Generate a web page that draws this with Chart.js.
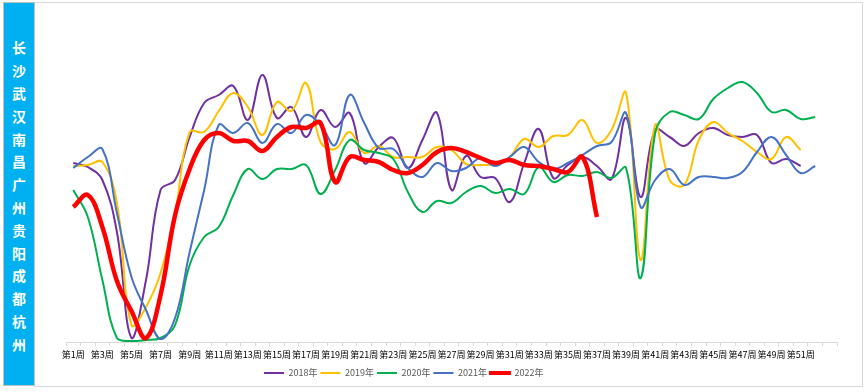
<!DOCTYPE html>
<html><head><meta charset="utf-8">
<script src="https://cdn.jsdelivr.net/npm/chart.js@4/dist/chart.umd.min.js"></script>
<style>
html,body{margin:0;padding:0;background:#fff;width:866px;height:392px;overflow:hidden;}
#frame{position:absolute;left:34px;top:2px;width:829px;height:385px;border:1px solid #D9D9D9;box-sizing:border-box;}
#side{position:absolute;left:3px;top:2px;width:32px;height:384px;background:#00B0F0;border:1px solid #BFBFBF;box-sizing:border-box;}
#side span{position:absolute;left:50%;top:38px;transform:translateX(-50%);writing-mode:vertical-rl;text-orientation:upright;color:#fff;font:700 14px "Noto Sans CJK SC";letter-spacing:8.8px;line-height:14px;}
#wrap{position:absolute;left:0;top:0;width:866px;height:392px;}
</style></head><body>
<div id="frame"></div>
<div id="side"><span>长沙武汉南昌广州贵阳成都杭州</span></div>
<div id="wrap"><canvas id="c" width="866" height="392"></canvas></div>
<script>
const weeks = ['第1周','第2周','第3周','第4周','第5周','第6周','第7周','第8周','第9周','第10周',
  '第11周','第12周','第13周','第14周','第15周','第16周','第17周','第18周','第19周','第20周',
  '第21周','第22周','第23周','第24周','第25周','第26周','第27周','第28周','第29周','第30周',
  '第31周','第32周','第33周','第34周','第35周','第36周','第37周','第38周','第39周','第40周',
  '第41周','第42周','第43周','第44周','第45周','第46周','第47周','第48周','第49周','第50周',
  '第51周','第52周','第53周'];
const seriesNames = ['2018年','2019年','2020年','2021年','2022年'];
const y2018 = [179,175,162,110,4,62,152,162,205,239,247,256,222,267,224,235,205,232,215,229,179,195,204,174,202,229,152,186,165,164,140,179,213,164,177,185,176,163,224,145,212,205,196,209,214,207,205,207,179,183,176];
const y2019 = [176,177,180,139,17,35,69,129,210,210,231,249,235,207,240,231,259,200,193,210,189,196,185,185,185,195,192,178,177,178,185,203,195,206,207,222,199,212,249,82,217,162,157,202,220,209,201,190,183,205,192];
const y2020 = [152,125,62,4,1,2,4,17,77,105,115,147,173,163,173,173,177,148,172,202,192,189,183,150,130,141,139,150,156,149,153,148,175,160,167,166,170,164,174,64,209,230,227,223,243,254,260,249,230,232,223,225];
const y2021 = [174,185,193,129,65,32,3,24,90,152,217,209,219,199,218,209,227,217,197,247,219,194,193,174,165,179,171,174,184,176,185,195,180,173,179,187,196,200,229,135,162,173,157,165,165,164,170,190,205,187,169,176];
const y2022 = [135,147,115,61,31,4,47,127,173,202,209,201,201,191,205,215,214,219,160,185,182,180,172,169,177,190,194,190,184,179,182,177,176,173,170,185,125];

const colors = ['#7030A0','#FFC000','#00B050','#4472C4','#FF0000'];
const widths = [2,2,2,2,4.5];
const orders = [4,3,2,1,0];
const seriesData = [y2018,y2019,y2020,y2021,y2022];

const FONT = '"Noto Sans CJK SC", "Noto Sans", sans-serif';
let axisH = 18;
let legendStart = 264;

const legendShift = {
  id: 'legendShift',
  afterLayout(chart) {
    const lg = chart.legend;
    if (lg) lg.left = legendStart - chart.options.plugins.legend.labels.padding;
  }
};

const chart = new Chart(document.getElementById('c'), {
  type: 'line',
  data: {
    labels: weeks,
    datasets: seriesNames.map((n, i) => ({
      label: n,
      data: seriesData[i],
      borderColor: colors[i],
      backgroundColor: colors[i],
      borderWidth: widths[i],
      order: orders[i],
      pointRadius: 0,
      tension: 0.4,
      fill: false
    }))
  },
  options: {
    responsive: false,
    animation: false,
    events: [],
    layout: { padding: { left: 66, right: 29, top: 12, bottom: 4 } },
    scales: {
      x: {
        offset: true,
        grid: { offset: true, drawOnChartArea: false, drawTicks: true, tickLength: 4, color: '#D9D9D9' },
        border: { color: '#D9D9D9', width: 1 },
        ticks: {
          autoSkip: false, maxRotation: 0, minRotation: 0, padding: 3,
          color: '#000000', font: { family: FONT, size: 9 },
          callback: (v, i) => (i % 2 === 0 && i < 52) ? weeks[i] : ''
        },
        afterFit: (s) => { s.height = axisH; }
      },
      y: { display: false, min: 0, max: 330 }
    },
    plugins: {
      tooltip: { enabled: false },
      legend: {
        position: 'bottom',
        align: 'start',
        labels: {
          boxWidth: 20, boxHeight: 2, padding: 3,
          color: '#595959', font: { family: FONT, size: 9 },
          generateLabels(chart) {
            const items = Chart.defaults.plugins.legend.labels.generateLabels(chart);
            items.sort((a, b) => a.datasetIndex - b.datasetIndex);
            items.forEach(it => {
              const ds = chart.data.datasets[it.datasetIndex];
              it.fillStyle = ds.borderColor;
              it.strokeStyle = ds.borderColor;
              it.lineWidth = ds.borderWidth > 3 ? 2 : 0;
            });
            return items;
          }
        }
      }
    }
  },
  plugins: [legendShift]
});

(function tune() {
  const a = chart.chartArea, pad = chart.options.layout.padding;
  pad.left += 66 - a.left;
  pad.right += a.right - 837;
  pad.top += 12 - a.top;
  const hb = chart.legend.legendHitBoxes[0];
  pad.bottom += (hb.top + hb.height / 2) - 373;
  legendStart += 264 - hb.left;
  chart.update();
  const b = chart.chartArea;
  axisH += b.bottom - 342;
  chart.update();
})();
</script>
</body></html>
